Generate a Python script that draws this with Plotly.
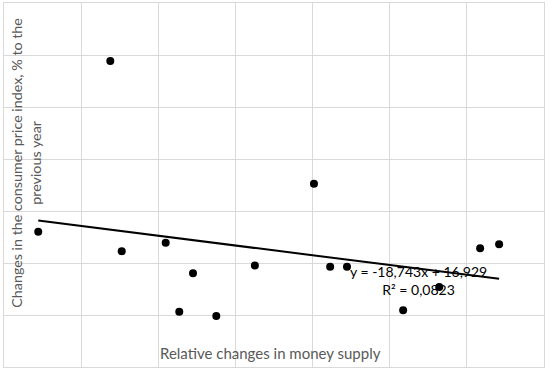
import plotly.graph_objects as go

# Relative changes in money supply (x) and CPI change, % (y)
money_supply = [0.1522, 0.1989, 0.2063, 0.2348, 0.2436, 0.2525, 0.2676, 0.2926,
                0.3309, 0.3414, 0.3523, 0.3887, 0.4121, 0.4386, 0.4509]
cpi_change = [13.00, 29.43, 11.14, 11.94, 5.32, 9.02, 4.91, 9.75,
              17.62, 9.63, 9.63, 5.46, 7.70, 11.43, 11.81]

# Linear trendline shown on the chart
trend_slope = -18.743
trend_intercept = 16.929
trend_label = "y = -18,743x + 16,929<br>R² = 0,0823"

x_title = "Relative changes in money supply"
y_title = "Changes in the consumer price index, % to the<br>previous year"

x_min, x_max = min(money_supply), max(money_supply)
trend_x = [x_min, x_max]
trend_y = [trend_intercept + trend_slope * v for v in trend_x]

FONT = "Lato, Calibri, sans-serif"

fig = go.Figure()
fig.add_trace(go.Scatter(x=money_supply, y=cpi_change, mode="markers",
                         marker=dict(color="black", size=8), showlegend=False))
fig.add_trace(go.Scatter(x=trend_x, y=trend_y, mode="lines",
                         line=dict(color="black", width=2), showlegend=False))

fig.update_layout(
    width=550, height=372,
    margin=dict(l=4, r=6, t=3, b=5),
    paper_bgcolor="white", plot_bgcolor="white",
    font=dict(family=FONT, color="#595959", size=14),
    xaxis=dict(range=[0.13, 0.48], tick0=0.13, dtick=0.05, showticklabels=False,
               showgrid=True, gridcolor="#d9d9d9", gridwidth=1, zeroline=False,
               showline=True, linecolor="#d9d9d9", mirror=True, ticks=""),
    yaxis=dict(range=[0, 35], tick0=0, dtick=5, showticklabels=False,
               showgrid=True, gridcolor="#d9d9d9", gridwidth=1, zeroline=False,
               showline=True, linecolor="#d9d9d9", mirror=True, ticks=""),
    annotations=[
        dict(xref="paper", yref="paper", x=(270 - 4) / 540, y=(367 - 353) / 363.5,
             text=x_title, showarrow=False, xanchor="center", yanchor="middle",
             font=dict(size=15, color="#595959", family=FONT)),
        dict(xref="paper", yref="paper", x=(26 - 4) / 540, y=(367 - 163) / 363.5,
             text=y_title, showarrow=False, xanchor="center", yanchor="middle",
             textangle=-90, align="center",
             font=dict(size=14.3, color="#595959", family=FONT)),
        dict(xref="paper", yref="paper", x=(418 - 4) / 540, y=(367 - 281) / 363.5,
             text=trend_label, showarrow=False, xanchor="center", yanchor="middle",
             align="center", font=dict(size=14, color="black", family=FONT)),
    ],
)

fig.write_html("out.html", config={"displayModeBar": False},
               post_script="document.body.style.margin='0';")
